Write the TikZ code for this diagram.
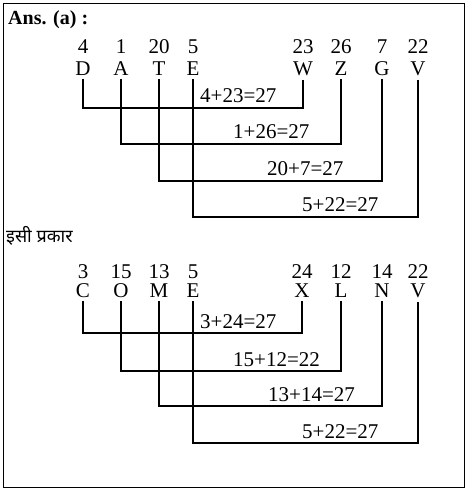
\documentclass[tikz,border=0pt]{standalone}
\usepackage{fontspec}
\setmainfont{Liberation Serif}
\newfontfamily\devfont[Script=Devanagari]{Noto Sans}
\usepackage{tikz}

\begin{document}
\begin{tikzpicture}[x=1pt, y=-1pt, font=\fontsize{21}{21}\selectfont,
    letter/.style={anchor=base, inner xsep=0pt, inner ysep=4pt},
    code/.style={anchor=base, inner sep=0pt},
    sumlab/.style={anchor=base west, inner sep=0pt},
    link/.style={line width=1.2pt, line join=miter}]
  \useasboundingbox (0,0) rectangle (467,490);
  \draw[line width=1pt] (3,3) rectangle (464,487);
  \node[anchor=base west, inner sep=0pt, font=\fontsize{20}{20}\selectfont\bfseries] (ans) at (8,24) {Ans. (a) :};
  % upper word pair: DATE -> WZGV
  \foreach \l/\n/\x in {D/4/83, A/1/121, T/20/159, E/5/193, W/23/303, Z/26/341, G/7/382, V/22/418}
    { \node[code] (n\l) at (\x,53) {\n};
      \node[letter] (\l) at (\x,75) {\l}; }
  \foreach \a/\b/\y/\xl/\s in {D/W/108/200/4+23=27, A/Z/144/233/1+26=27, T/G/181/267/20+7=27, E/V/217/302/5+22=27}
    { \draw[link] (\a.south) |- (\b.south |- 0,\y) -- (\b.south);
      \node[sumlab] (s\a) at (\xl,\y-6) {\s}; }
  \node[anchor=west, inner sep=0pt, font=\devfont\fontsize{18}{18}\selectfont] (same) at (6,236) {इसी प्रकार};
  % lower word pair: COME -> XLNV
  \foreach \l/\n/\x in {C/3/83, O/15/121, M/13/159, E/5/193, X/24/302, L/12/341, N/14/382, V/22/418}
    { \node[code] (m\l) at (\x,278) {\n};
      \node[letter] (b\l) at (\x,297) {\l}; }
  \foreach \a/\b/\y/\xl/\s in {C/X/333/200/3+24=27, O/L/371/233/15+12=22, M/N/406/268/13+14=27, E/V/443/302/5+22=27}
    { \draw[link] (b\a.south) |- (b\b.south |- 0,\y) -- (b\b.south);
      \node[sumlab] (t\a) at (\xl,\y-5) {\s}; }
\end{tikzpicture}
\end{document}
